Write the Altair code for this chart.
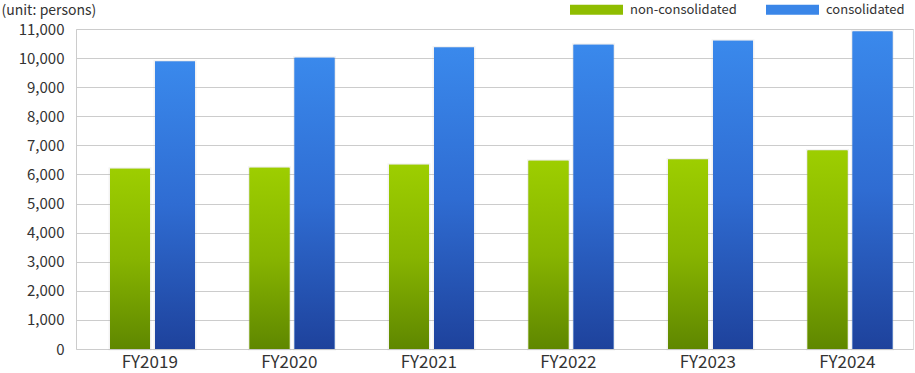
import altair as alt
import pandas as pd

# Employee headcount by fiscal year
years = ["FY2019", "FY2020", "FY2021", "FY2022", "FY2023", "FY2024"]
non_consolidated = [6200, 6230, 6330, 6470, 6510, 6820]
consolidated = [9880, 10010, 10360, 10460, 10600, 10910]
series_names = ["non-consolidated", "consolidated"]
y_ticks = list(range(0, 11001, 1000))

rows = []
for yr, a, b in zip(years, non_consolidated, consolidated):
    rows.append({"year": yr, "series": series_names[0], "value": a})
    rows.append({"year": yr, "series": series_names[1], "value": b})
df = pd.DataFrame(rows)

FONT = "Noto Sans CJK JP"
TEXT = "#333333"
GRID = "#cccccc"

green_grad = alt.LinearGradient(
    gradient="linear", x1=0, x2=0, y1=0, y2=1,
    stops=[alt.GradientStop(color="#9dce00", offset=0),
           alt.GradientStop(color="#87b400", offset=0.5),
           alt.GradientStop(color="#5f8700", offset=1)],
)
blue_grad = alt.LinearGradient(
    gradient="linear", x1=0, x2=0, y1=0, y2=1,
    stops=[alt.GradientStop(color="#3a89ec", offset=0),
           alt.GradientStop(color="#2f6cd2", offset=0.5),
           alt.GradientStop(color="#1e429c", offset=1)],
)

x_enc = alt.X(
    "year:N", sort=years, title=None,
    scale=alt.Scale(paddingInner=0, paddingOuter=0),
    axis=alt.Axis(labelAngle=0, ticks=False, domain=False, grid=False,
                  labelFont=FONT, labelFontSize=17, labelColor=TEXT,
                  labelPadding=5, labelOffset=4),
)
xoff_enc = alt.XOffset(
    "series:N", sort=series_names,
    scale=alt.Scale(domain=series_names, paddingInner=0.111,
                    paddingOuter=0.6056, align=0.624),
)
y_enc = alt.Y(
    "value:Q", title="(unit: persons)",
    scale=alt.Scale(domain=[0, 11000], nice=False),
    axis=alt.Axis(values=y_ticks, format=",d", ticks=False,
                  domainColor=GRID, gridColor=GRID, gridWidth=1,
                  labelFont=FONT, labelFontSize=15, labelColor=TEXT,
                  labelPadding=12,
                  titleAngle=0, titleX=-75, titleY=-19, titleAlign="left",
                  titleBaseline="middle", titleFont=FONT, titleFontSize=14,
                  titleFontWeight="normal", titleColor=TEXT),
)

# solid bars carry the legend and a soft halo behind the gradient bars
base = alt.Chart(df).mark_bar(
    stroke="#999999", strokeWidth=3, strokeOpacity=0.12
).encode(
    x=x_enc, xOffset=xoff_enc, y=y_enc,
    color=alt.Color(
        "series:N",
        scale=alt.Scale(domain=series_names, range=["#8fbd00", "#3a86e8"]),
        legend=alt.Legend(
            title=None, orient="none", direction="horizontal",
            legendX=494, legendY=-46,
            symbolType="M-1,-0.19L1,-0.19L1,0.19L-1,0.19Z",
            symbolSize=2809, symbolStrokeWidth=0, symbolOpacity=1,
            labelFont=FONT, labelFontSize=13, labelColor=TEXT,
            labelOffset=7, columnPadding=29,
        ),
    ),
)

grad = alt.Chart(df).mark_bar().encode(
    x=x_enc, xOffset=xoff_enc, y=y_enc,
    fill=alt.condition(alt.datum.series == series_names[0],
                       alt.value(green_grad), alt.value(blue_grad)),
)

chart = alt.layer(base, grad).properties(
    width=837, height=320,
    autosize=alt.AutoSizeParams(type="none"),
    padding={"left": 76, "top": 29, "right": 2, "bottom": 24},
).configure_view(stroke=GRID).configure(background="white")

chart.save("out.html", embed_options={"renderer": "svg", "actions": False})
